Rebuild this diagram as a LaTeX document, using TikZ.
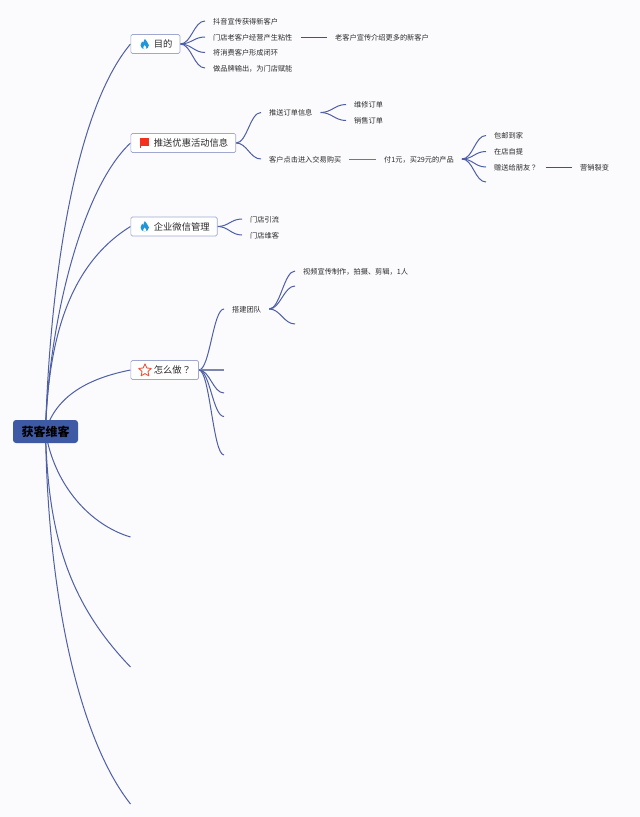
\documentclass[tikz,border=0pt]{standalone}
\usepackage{fontspec}
\setmainfont{Noto Sans CJK SC}
\newfontfamily\tcpunct{Noto Sans CJK TC}
\pgfdeclarelayer{back}
\pgfsetlayers{back,main}
\definecolor{pagebg}{HTML}{FBFBFE}
\definecolor{linkc}{HTML}{4F5FA6}
\definecolor{darkc}{HTML}{3B5490}
\definecolor{lightc}{HTML}{5B79B8}
\definecolor{greyc}{HTML}{7C85AC}
\definecolor{rootc}{HTML}{3F5AA5}
\definecolor{edgec}{HTML}{A0A8CF}
\definecolor{txtc}{HTML}{2B2B2B}
\definecolor{flamec}{HTML}{1F96D8}
\definecolor{flagc}{HTML}{F5301F}
\definecolor{starc}{HTML}{E8563F}
\tikzset{
  rootbox/.style={draw=none,fill=rootc,rounded corners=3pt,minimum width=65pt,minimum height=23pt,inner sep=0pt,text=black,font=\fontsize{12}{14}\selectfont\bfseries},
  mainbox/.style={draw=edgec,line width=0.7pt,fill=white,rounded corners=1.5pt,anchor=west,minimum height=19pt,inner xsep=0pt,inner ysep=0pt,text=txtc,text height=8pt,text depth=1pt,font=\fontsize{9.3}{11}\selectfont,
    execute at begin node=\hspace*{23pt},execute at end node=\hspace*{7.5pt}},
  leaf/.style={anchor=west,inner xsep=8pt,inner ysep=1pt,text=txtc,text height=7.5pt,text depth=1pt,font=\fontsize{7.2}{9}\selectfont},
  conn/.style={draw=linkc,line width=1pt},
  straight/.style={draw=darkc,line width=1pt},
  bez/.style={to path={.. controls +(#1,0) and +(-#1,0) .. (\tikztotarget)}},
  bez/.default=11,
  flame/.pic={
    \fill[flamec] (0.2,-5.3) .. controls (0.6,-3) and (4.2,-2.2) .. (4.2,1) .. controls (4.2,3.4) and (2.2,5) .. (0,5) .. controls (-2.2,5) and (-4.2,3.4) .. (-4.2,1) .. controls (-4.2,-0.8) and (-3.2,-1.6) .. (-2.6,-2.8) .. controls (-2.2,-2) and (-1.8,-1.6) .. (-1.4,-1.4) .. controls (-1.2,-2.8) and (-0.6,-4.4) .. (0.2,-5.3) -- cycle;
    \fill[white] (0,5) .. controls (-1.5,5) and (-1.9,3.8) .. (-1.4,3) .. controls (-1,2.4) and (-0.3,2) .. (0,1) .. controls (0.4,2) and (1,2.4) .. (1.4,3) .. controls (1.9,3.8) and (1.5,5) .. (0,5) -- cycle;
  },
  redflag/.pic={
    \fill[flagc] (-4.3,-4.6) rectangle (4.4,3.4);
    \draw[flagc,line width=0.7pt] (-4,-4.6) -- (-4,4.6);
  },
  redstar/.pic={
    \draw[starc,line width=0.9pt,line join=round,fill=white] (-90:6.6) -- (-54:3.1) -- (-18:6.6) -- (18:3.1) -- (54:6.6) -- (90:3.1) -- (126:6.6) -- (162:3.1) -- (198:6.6) -- (234:3.1) -- cycle;
  }
}
\begin{document}
\begin{tikzpicture}[x=1pt,y=-1pt]
\useasboundingbox (0,0) rectangle (640,817);
% root and main topics
\node[rootbox] (root) at (45.5,431.5) {获客维客};
\node[mainbox] (goal) at (130.5,44) {目的};
\node[mainbox] (push) at (130.5,143) {推送优惠活动信息};
\node[mainbox] (wecom) at (130.5,226.5) {企业微信管理};
\node[mainbox] (how) at (130.5,370) {怎么做{\tcpunct ？}};
\pic at (144.7,44.2) {flame};
\pic at (144.7,143) {redflag};
\pic at (144.7,226.5) {flame};
\pic at (145,370.5) {redstar};
% leaves
\node[leaf] (g1) at (205,21) {抖音宣传获得新客户};
\node[leaf] (g2) at (205,37) {门店老客户经营产生粘性};
\node[leaf] (g3) at (205,52.5) {将消费客户形成闭环};
\node[leaf] (g4) at (205,68) {做品牌输出，为门店赋能};
\node[leaf] (g2a) at (327,37) {老客户宣传介绍更多的新客户};
\node[leaf] (p1) at (261,112.5) {推送订单信息};
\node[leaf] (p2) at (261,159) {客户点击进入交易购买};
\node[leaf] (p1a) at (346,104.5) {维修订单};
\node[leaf] (p1b) at (346,120.5) {销售订单};
\node[leaf] (p2a) at (376,159) {付1元，买29元的产品};
\node[leaf] (d1) at (486,135.5) {包邮到家};
\node[leaf] (d2) at (486,151.5) {在店自提};
\node[leaf] (d3) at (486,167) {赠送给朋友{\tcpunct ？}};
\coordinate (d4) at (486,182);
\node[leaf] (d3a) at (572,167) {营销裂变};
\node[leaf] (w1) at (242,219) {门店引流};
\node[leaf] (w2) at (242,235) {门店维客};
\node[leaf] (h1) at (224,309) {搭建团队};
\coordinate (h2) at (224,370);
\coordinate (h3) at (224,393);
\coordinate (h4) at (224,416.5);
\coordinate (h5) at (224,455);
\node[leaf] (t1) at (295,271) {视频宣传制作，拍摄、剪辑，1人};
\coordinate (t2) at (295,286);
\coordinate (t3) at (295,324);
\coordinate (m5) at (130.5,537);
\coordinate (m6) at (130.5,667);
\coordinate (m7) at (130.5,804);
\begin{pgfonlayer}{back}
\fill[pagebg] (0,0) rectangle (640,817);
% root branches
\draw[conn] (root.center) .. controls (50,280) and (75,110) .. (goal.west);
\draw[conn] (root.center) .. controls (48,330) and (80,190) .. (push.west);
\draw[conn] (root.center) .. controls (48,360) and (60,270) .. (wecom.west);
\draw[conn] (root.center) .. controls (56,395) and (90,378) .. (how.west);
\draw[conn] (root.center) .. controls (54,485) and (90,525) .. (m5);
\draw[conn] (root.center) .. controls (48,530) and (66,600) .. (m6);
\draw[conn] (root.center) .. controls (48,600) and (80,740) .. (m7);
% goal
\foreach \t in {g1,g2,g3,g4} \draw[conn] (goal.east) to[bez] (\t.west);
\draw[straight] (g2.east) -- (g2a.west);
% push
\foreach \t in {p1,p2} \draw[conn] (push.east) to[bez] (\t.west);
\foreach \t in {p1a,p1b} \draw[conn] (p1.east) to[bez] (\t.west);
\draw[draw=lightc,line width=1pt] (p2.east) -- (p2a.west);
\foreach \t in {d1,d2,d3} \draw[conn] (p2a.east) to[bez] (\t.west);
\draw[conn] (p2a.east) to[bez] (d4);
\draw[straight] (d3.east) -- (d3a.west);
% wecom
\foreach \t in {w1,w2} \draw[conn] (wecom.east) to[bez] (\t.west);
% how
\draw[conn] (how.east) to[bez] (h1.west);
\draw[draw=greyc,line width=1.1pt] (how.east) -- (h2);
\foreach \t in {h3,h4,h5} \draw[conn] (how.east) to[bez] (\t);
\draw[conn] (h1.east) to[bez] (t1.west);
\foreach \t in {t2,t3} \draw[conn] (h1.east) to[bez] (\t);
\end{pgfonlayer}
\end{tikzpicture}
\end{document}
